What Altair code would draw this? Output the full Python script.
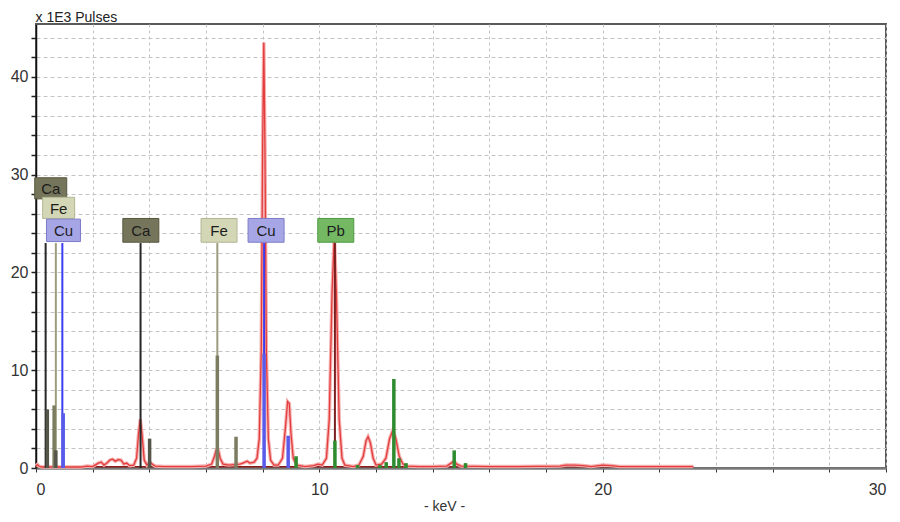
import altair as alt
import pandas as pd

# ---------------- data ----------------
spec_kev = [0.00, 0.05, 0.10, 0.20, 0.40, 0.60, 0.80, 1.00, 1.30, 1.60, 1.80, 2.00, 2.20, 2.30, 2.40,
            2.50, 2.60, 2.70, 2.80, 2.90, 3.00, 3.10, 3.20, 3.30, 3.45, 3.55, 3.62, 3.68, 3.74, 3.82,
            3.92, 4.02, 4.10, 4.20, 4.50, 5.00, 5.50, 6.00, 6.20, 6.30, 6.37, 6.43, 6.50, 6.60, 6.80,
            7.00, 7.20, 7.30, 7.45, 7.55, 7.70, 7.80, 7.88, 7.95, 8.00, 8.04, 8.08, 8.13, 8.20, 8.28,
            8.40, 8.55, 8.70, 8.80, 8.88, 8.94, 9.00, 9.08, 9.20, 9.50, 9.80, 9.95, 10.10, 10.25, 10.35,
            10.45, 10.53, 10.60, 10.70, 10.80, 10.90, 11.20, 11.40, 11.55, 11.65, 11.72, 11.80, 11.90, 12.00,
            12.20, 12.35, 12.48, 12.60, 12.70, 12.82, 12.95, 13.10, 13.50, 14.00, 14.50, 14.65, 14.75, 14.85,
            15.00, 16.00, 17.00, 18.50, 18.70, 19.00, 19.30, 19.60, 20.00, 20.30, 20.60, 21.50, 22.50, 23.20]
spec_cnt = [0.20, 0.35, 0.20, 0.10, 0.10, 0.10, 0.10, 0.10, 0.10, 0.10, 0.20, 0.15, 0.50, 0.60, 0.30,
            0.50, 0.80, 0.90, 0.70, 0.85, 0.80, 0.40, 0.50, 0.25, 0.30, 1.00, 3.50, 5.00, 3.50, 0.80,
            0.30, 0.60, 0.40, 0.20, 0.15, 0.15, 0.15, 0.20, 0.40, 1.20, 1.90, 1.90, 1.00, 0.40, 0.30,
            0.35, 0.40, 0.50, 0.70, 0.50, 0.60, 1.00, 3.00, 12.0, 33.0, 43.5, 33.0, 12.0, 3.00, 0.80,
            0.30, 0.30, 1.00, 4.00, 6.80, 6.60, 3.50, 1.00, 0.30, 0.15, 0.25, 0.40, 0.30, 1.00, 5.00,
            18.0, 23.8, 18.0, 5.00, 1.00, 0.30, 0.15, 0.30, 1.20, 2.80, 3.20, 2.60, 1.00, 0.30,
            0.40, 1.00, 3.00, 3.90, 3.00, 1.20, 0.40, 0.20, 0.15, 0.15, 0.20, 0.50, 0.70, 0.40,
            0.20, 0.15, 0.15, 0.20, 0.30, 0.30, 0.25, 0.15, 0.30, 0.25, 0.15, 0.15, 0.15, 0.15]

base_kev = [0.0, 23.2]
base_cnt = [0.12, 0.12]

marker_kev = [0.34, 3.69, 0.70, 6.40, 0.93, 8.05, 10.55]
marker_h = [23.0, 23.0, 23.0, 23.0, 23.0, 23.0, 23.0]
marker_el = ["Ca", "Ca", "Fe", "Fe", "Cu", "Cu", "Pb"]

bar_kev = [0.40, 4.01, 0.64, 0.70, 6.40, 7.06, 0.96, 8.05, 8.90, 9.18, 10.55, 11.35, 12.14,
           12.36, 12.63, 12.81, 13.06, 14.76, 15.16]
bar_h = [6.0, 3.0, 6.4, 1.8, 11.5, 3.2, 5.6, 11.7, 3.3, 1.2, 2.8, 0.3, 0.3,
         0.6, 9.1, 1.0, 0.5, 1.8, 0.5]
bar_el = ["Ca", "Ca", "Fe", "Ca", "Fe", "Fe", "Cu", "Cu", "Cu", "Pb", "Pb", "Pb", "Pb",
          "Pb", "Pb", "Pb", "Pb", "Pb", "Pb"]

lab_text = ["Ca", "Fe", "Cu", "Ca", "Fe", "Cu", "Pb"]
lab_kev = [0.52, 0.80, 0.97, 3.70, 6.46, 8.12, 10.58]
lab_y = [28.6, 26.6, 24.3, 24.3, 24.3, 24.3, 24.3]
lab_px = [32, 32, 34, 36, 36, 36, 36]

elements = ["Ca", "Fe", "Cu", "Pb"]
marker_colors = ["#262626", "#9c9c7c", "#3c3cf0", "#7a2020"]
bar_colors = ["#55554a", "#7c7c60", "#5a5aea", "#2e8b2e"]
box_fill = ["#75755b", "#d3d7b5", "#a6a6e6", "#74b864"]
box_stroke = ["#58583f", "#b2b694", "#7c7cc8", "#4e9a40"]

# ---------------- frames ----------------
spec = pd.DataFrame({"kev": spec_kev, "cnt": spec_cnt})
base = pd.DataFrame({"kev": base_kev, "cnt": base_cnt})
markers = pd.DataFrame({"kev": marker_kev, "h": marker_h, "el": marker_el})
bars = pd.DataFrame({"kev": bar_kev, "h": bar_h, "el": bar_el})
labels = pd.DataFrame({"kev": lab_kev, "y": lab_y, "t": lab_text,
                       "s": [p * p for p in lab_px]})
labels["el"] = labels["t"]

FONT = "Liberation Sans"
xscale = alt.Scale(domain=[0, 30], nice=False, zero=False)
yscale = alt.Scale(domain=[0, 45.4], nice=False, zero=True)

xaxis = alt.Axis(values=list(range(0, 31, 2)),
                 labelExpr="datum.value % 10 == 0 ? datum.label : ''",
                 grid=True, gridDash=[3, 3], gridColor="#c4c4c4", gridWidth=1,
                 domainColor="#7a7a7a", domainWidth=2.5,
                 tickColor="#333333", tickSize=4, tickWidth=1,
                 labelFont=FONT, labelFontSize=16, labelColor="#333333", labelPadding=9,
                 title="- keV -", titleFont=FONT, titleFontSize=14, titleFontWeight="normal",
                 titleColor="#333333", titleX=408, titleY=38, titleAlign="center",
                 titleBaseline="middle")
yaxis = alt.Axis(values=list(range(0, 46, 2)),
                 labelExpr="datum.value % 10 == 0 ? datum.label : ''",
                 grid=True, gridDash=[4, 3], gridColor="#c4c4c4", gridWidth=1,
                 domainColor="#111111", domainWidth=1.5,
                 tickColor="#222222", tickSize=5, tickWidth=1.5,
                 labelFont=FONT, labelFontSize=16, labelColor="#333333", labelPadding=3,
                 title="x 1E3 Pulses", titleFont=FONT, titleFontSize=14,
                 titleFontWeight="normal", titleColor="#222222", titleAngle=0,
                 titleAlign="left", titleBaseline="alphabetic", titleX=-1, titleY=-3)


def X():
    return alt.X("kev:Q", scale=xscale, axis=xaxis)


def Y(field):
    return alt.Y(field, scale=yscale, axis=yaxis)


base_layer = alt.Chart(base).mark_line(color="#8b1a1a", strokeWidth=1.5).encode(
    x=X(), y=Y("cnt:Q"))

halo = alt.Chart(spec).mark_line(color="#f4b0b0", strokeWidth=3.5, interpolate="linear").encode(
    x=X(), y=Y("cnt:Q"))
core = alt.Chart(spec).mark_line(color="#e43c3c", strokeWidth=1.3, interpolate="linear").encode(
    x=X(), y=Y("cnt:Q"))

marker_layer = alt.Chart(markers).mark_rule(strokeWidth=2).encode(
    x=X(), y=Y("h:Q"), y2=alt.datum(0),
    color=alt.Color("el:N", scale=alt.Scale(domain=elements, range=marker_colors), legend=None))

bar_layer = alt.Chart(bars).mark_rule(strokeWidth=3.5).encode(
    x=X(), y=Y("h:Q"), y2=alt.datum(0),
    color=alt.Color("el:N", scale=alt.Scale(domain=elements, range=bar_colors), legend=None))

box_layer = alt.Chart(labels).mark_point(
    shape="M-1,-0.66H1V0.66H-1Z", filled=True, opacity=1, strokeWidth=1).encode(
    x=X(), y=Y("y:Q"),
    size=alt.Size("s:Q", scale=None, legend=None),
    fill=alt.Fill("el:N", scale=alt.Scale(domain=elements, range=box_fill), legend=None),
    stroke=alt.Stroke("el:N", scale=alt.Scale(domain=elements, range=box_stroke), legend=None))

text_layer = alt.Chart(labels).mark_text(
    font=FONT, fontSize=15, color="#1c1c1c", align="center", baseline="middle", dy=1).encode(
    x=X(), y=Y("y:Q"), text="t:N")

chart = alt.layer(base_layer, halo, core, marker_layer, bar_layer,
                  box_layer, text_layer).resolve_scale(color="independent").properties(
    width=850, height=444,
    autosize=alt.AutoSizeParams(type="none"),
    padding={"left": 28, "top": 16, "right": 6, "bottom": 46},
    background="white",
).configure_view(stroke="#5a5a5a", strokeWidth=2)

chart.save("out.html", embed_options={"renderer": "svg", "actions": False})
